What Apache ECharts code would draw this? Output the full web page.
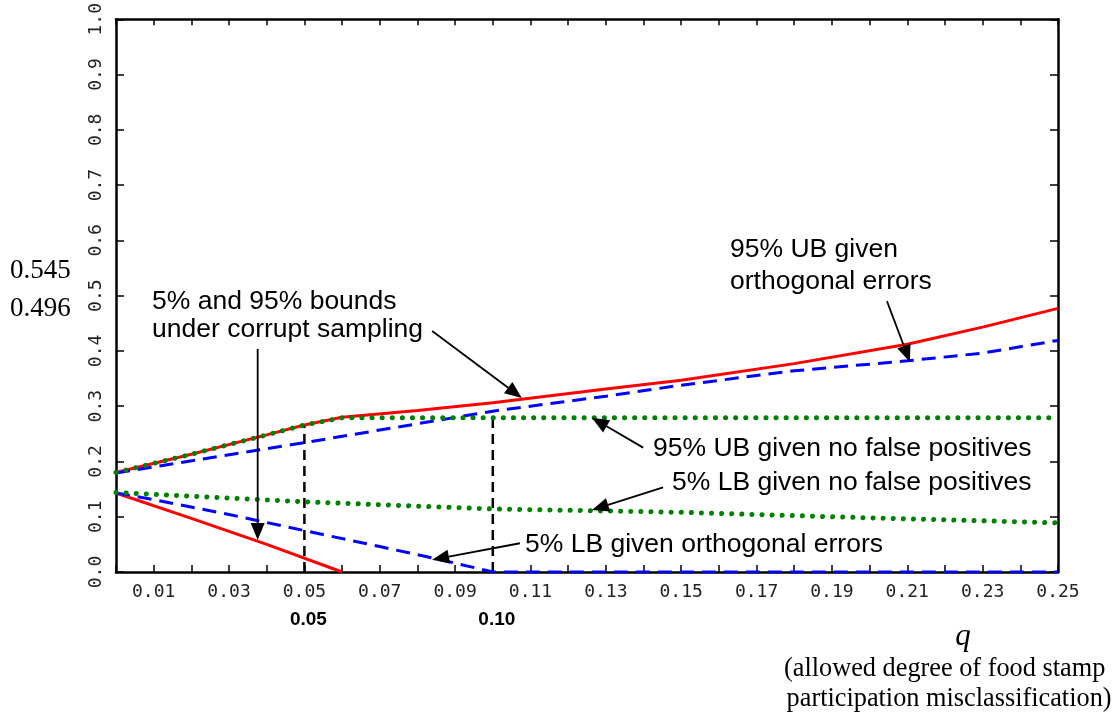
<!DOCTYPE html>
<html><head><meta charset="utf-8">
<script src="https://cdn.jsdelivr.net/npm/echarts@6/dist/echarts.min.js"></script>
<style>html,body{margin:0;padding:0;background:#fff}#c{width:1118px;height:717px}</style>
</head><body><div id="c"></div>
<script>
// ---- data ----
const redUpperQ = [0, 0.02, 0.04, 0.05, 0.06, 0.08, 0.10, 0.13, 0.15, 0.18, 0.21, 0.23, 0.25];
const redUpperV = [0.180, 0.213, 0.248, 0.266, 0.280, 0.292, 0.306, 0.331, 0.347, 0.377, 0.412, 0.443, 0.477];
const redLowerQ = [0, 0.02, 0.04, 0.06];
const redLowerV = [0.143, 0.097, 0.050, 0.000];
const blueUpperQ = [0, 0.05, 0.10, 0.13, 0.15, 0.18, 0.21, 0.23, 0.25];
const blueUpperV = [0.179, 0.234, 0.291, 0.318, 0.338, 0.364, 0.382, 0.396, 0.419];
const blueLowerQ = [0, 0.01, 0.03, 0.05, 0.07, 0.085, 0.10, 0.25];
const blueLowerV = [0.143, 0.131, 0.104, 0.075, 0.046, 0.024, 0.000, 0.000];
const greenUpperQ = [0, 0.02, 0.04, 0.05, 0.06, 0.25];
const greenUpperV = [0.180, 0.213, 0.248, 0.266, 0.279, 0.279];
const greenLowerQ = [0, 0.05, 0.10, 0.15, 0.20, 0.25];
const greenLowerV = [0.144, 0.127, 0.114, 0.108, 0.098, 0.089];
const refLineQ = [0.05, 0.10];
const refLineTopV = [0.265, 0.291];
const refLineLabels = ['0.05', '0.10'];
const arrowStartQ = [0.0376, 0.0839, 0.2046, 0.1399, 0.1452, 0.1072];
const arrowStartV = [0.4036, 0.436, 0.490, 0.225, 0.153, 0.052];
const arrowEndQ   = [0.0376, 0.1077, 0.2107, 0.1263, 0.1263, 0.0839];
const arrowEndV   = [0.0577, 0.315, 0.380, 0.279, 0.112, 0.022];
const annotationTexts = [
  '5% and 95% bounds', 'under corrupt sampling',
  '95% UB given', 'orthogonal errors',
  '95% UB given no false positives',
  '5% LB given no false positives',
  '5% LB given orthogonal errors'
];
const sideValues = ['0.545', '0.496'];
const axisTitle = 'q';
const axisSubtitle = ['(allowed degree of food stamp', ' participation misclassification)'];

function pairs(qs, vs) { return qs.map((q, i) => [q, vs[i]]); }

const chart = echarts.init(document.getElementById('c'), null, {renderer: 'canvas'});
const tickFont = 'DejaVu Sans Mono';
const axisCommon = {
  type: 'value', splitLine: {show: false},
  axisLine: {show: true, onZero: false, lineStyle: {color: '#000', width: 2.5}},
  axisTick: {show: true, inside: true, length: 7, lineStyle: {color: '#000', width: 1.5}}
};
const option = {
  animation: false,
  backgroundColor: '#fff',
  grid: {left: 116, right: 60, top: 17, bottom: 145, containLabel: false},
  xAxis: [
    Object.assign({}, axisCommon, {
      min: 0, max: 0.25, interval: 0.01, position: 'bottom',
      axisLabel: {margin: 11, fontFamily: tickFont, fontSize: 18, color: '#222',
        formatter: v => (Math.round(v * 100) % 2 === 1 ? v.toFixed(2) : '')}
    }),
    Object.assign({}, axisCommon, {
      min: 0, max: 0.25, interval: 0.01, position: 'top',
      axisTick: {show: true, inside: true, length: 6, lineStyle: {color: '#000', width: 1.5}},
      axisLabel: {show: false}
    })
  ],
  yAxis: [
    Object.assign({}, axisCommon, {
      min: 0, max: 1, interval: 0.1, position: 'left',
      axisTick: {show: true, inside: true, length: 8, lineStyle: {color: '#000', width: 1.5}},
      axisLabel: {margin: 11, rotate: 90, fontFamily: tickFont, fontSize: 18, color: '#222',
        formatter: v => v.toFixed(1)}
    }),
    Object.assign({}, axisCommon, {
      min: 0, max: 1, interval: 0.1, position: 'right',
      axisTick: {show: true, inside: true, length: 8, lineStyle: {color: '#000', width: 1.5}},
      axisLabel: {show: false}
    })
  ],
  series: [
    ...refLineQ.map((q, i) => ({
      type: 'line', data: [[q, 0], [q, refLineTopV[i]]], showSymbol: false, z: 1,
      lineStyle: {color: '#000', width: 2.5, type: [10, 6]}
    })),
    {type: 'line', data: pairs(redUpperQ, redUpperV), showSymbol: false, z: 2,
      lineStyle: {color: '#ff0000', width: 3}},
    {type: 'line', data: pairs(redLowerQ, redLowerV), showSymbol: false, z: 2,
      lineStyle: {color: '#ff0000', width: 3}},
    {type: 'line', data: pairs(blueUpperQ, blueUpperV), showSymbol: false, z: 3,
      lineStyle: {color: '#0000ff', width: 3, type: [14, 8]}},
    {type: 'line', data: pairs(blueLowerQ, blueLowerV), showSymbol: false, z: 3,
      lineStyle: {color: '#0000ff', width: 3, type: [14, 8]}},
    {type: 'line', data: pairs(greenUpperQ, greenUpperV), showSymbol: false, z: 4,
      lineStyle: {color: '#008000', width: 5, type: [0.1, 10], cap: 'round'}},
    {type: 'line', data: pairs(greenLowerQ, greenLowerV), showSymbol: false, z: 4,
      lineStyle: {color: '#008000', width: 5, type: [0.1, 10], cap: 'round'}}
  ]
};
chart.setOption(option);

// ---- annotations (arrows through the chart's own scales) ----
const px = (q, v) => chart.convertToPixel({xAxisIndex: 0, yAxisIndex: 0}, [q, v]);
const graphics = [];
arrowStartQ.forEach((q, i) => {
  const a = px(q, arrowStartV[i]);
  const b = px(arrowEndQ[i], arrowEndV[i]);
  const dx = b[0] - a[0], dy = b[1] - a[1];
  const len = Math.hypot(dx, dy), ux = dx / len, uy = dy / len;
  const L = 17, W = 7;
  const base = [b[0] - ux * L, b[1] - uy * L];
  graphics.push({type: 'line', z: 100, shape: {x1: a[0], y1: a[1], x2: base[0], y2: base[1]},
    style: {stroke: '#000', lineWidth: 1.8}});
  graphics.push({type: 'polygon', z: 100, shape: {points: [b,
    [base[0] - uy * W, base[1] + ux * W], [base[0] + uy * W, base[1] - ux * W]]},
    style: {fill: '#000'}});
});
const annFont = '26.5px "Liberation Sans", Arial, sans-serif';
const annPos = [[152, 302], [152, 330], [730, 250], [730, 282], [653, 449], [672, 483], [525, 545]];
annotationTexts.forEach((t, i) => {
  graphics.push({type: 'text', z: 100, x: annPos[i][0], y: annPos[i][1],
    style: {text: t, font: annFont, fill: '#000', textAlign: 'left', textVerticalAlign: 'middle'}});
});
refLineQ.forEach((q, i) => {
  const p = px(q, 0);
  graphics.push({type: 'text', z: 100, x: p[0] + 4, y: 620,
    style: {text: refLineLabels[i], font: 'bold 19px "Liberation Sans", Arial, sans-serif',
      fill: '#000', textAlign: 'center', textVerticalAlign: 'middle'}});
});
const serif = '"Liberation Serif", "Times New Roman", serif';
graphics.push({type: 'text', x: 10, y: 271, style: {text: sideValues[0], font: '27px ' + serif,
  fill: '#000', textAlign: 'left', textVerticalAlign: 'middle'}});
graphics.push({type: 'text', x: 10, y: 309, style: {text: sideValues[1], font: '27px ' + serif,
  fill: '#000', textAlign: 'left', textVerticalAlign: 'middle'}});
graphics.push({type: 'text', x: 963, y: 637, style: {text: axisTitle, font: 'italic 31px ' + serif,
  fill: '#000', textAlign: 'center', textVerticalAlign: 'middle'}});
graphics.push({type: 'text', x: 784, y: 669, style: {text: axisSubtitle[0], font: '26.3px ' + serif,
  fill: '#000', textAlign: 'left', textVerticalAlign: 'middle'}});
graphics.push({type: 'text', x: 780, y: 699, style: {text: axisSubtitle[1], font: '26.3px ' + serif,
  fill: '#000', textAlign: 'left', textVerticalAlign: 'middle'}});
chart.setOption({graphic: graphics});
</script></body></html>
